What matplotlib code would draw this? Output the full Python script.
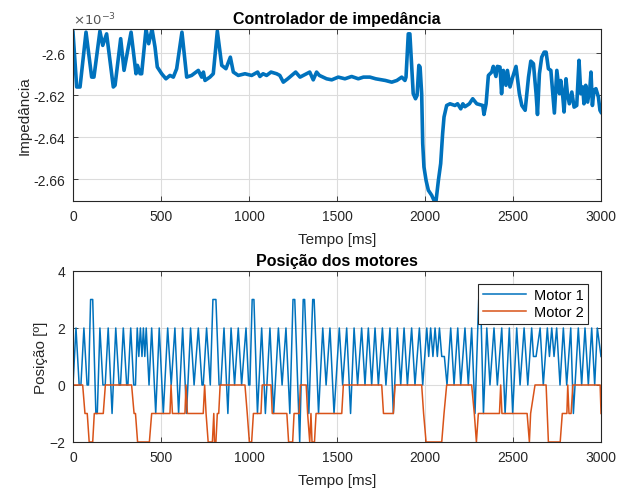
import matplotlib
matplotlib.use("Agg")
import matplotlib.pyplot as plt
from matplotlib.ticker import FuncFormatter

plt.rcParams['font.family'] = ['Liberation Sans', 'DejaVu Sans']

# impedance controller output (values in units of 1e-3)
imp_t = [0, 21, 40, 74, 106, 119, 153, 169, 191, 229, 239, 271, 290, 330, 358, 366, 381, 390,
         415, 430, 449, 466, 479, 504, 528, 551, 570, 589, 619, 646, 674, 712, 731, 741, 750,
         778, 797, 820, 845, 869, 894, 911, 939, 977, 1015, 1049, 1062, 1080, 1100, 1125, 1157,
         1175, 1195, 1220, 1265, 1290, 1327, 1345, 1365, 1384, 1400, 1441, 1470, 1507, 1545,
         1583, 1621, 1650, 1687, 1720, 1754, 1775, 1811, 1840, 1868, 1886, 1892, 1905, 1914,
         1933, 1946, 1955, 1965, 1972, 1981, 1987, 1994, 2006, 2019, 2038, 2051, 2063, 2076,
         2089, 2100, 2108, 2123, 2142, 2170, 2185, 2203, 2215, 2227, 2252, 2271, 2294, 2310,
         2328, 2335, 2347, 2360, 2379, 2388, 2403, 2411, 2426, 2435, 2445, 2460, 2468, 2483,
         2498, 2517, 2536, 2550, 2569, 2588, 2601, 2616, 2631, 2639, 2650, 2663, 2677, 2688,
         2701, 2715, 2726, 2735, 2749, 2764, 2771, 2783, 2790, 2801, 2809, 2820, 2834, 2847,
         2862, 2875, 2885, 2896, 2903, 2913, 2924, 2937, 2943, 2951, 2960, 2971, 2985, 2994, 3000]
imp_v = [-2.5899, -2.6160, -2.6160, -2.5899, -2.6113, -2.6113, -2.5894, -2.5962, -2.5907, -2.6160,
         -2.6152, -2.5930, -2.6081, -2.5899, -2.6097, -2.6057, -2.6097, -2.6097, -2.5884, -2.5954,
         -2.5884, -2.5970, -2.6065, -2.6097, -2.6121, -2.6105, -2.6113, -2.6073, -2.5899, -2.6113,
         -2.6105, -2.6081, -2.6113, -2.6089, -2.6129, -2.6113, -2.6097, -2.5894, -2.6057, -2.6073,
         -2.6018, -2.6089, -2.6105, -2.6097, -2.6105, -2.6089, -2.6110, -2.6097, -2.6105, -2.6089,
         -2.6097, -2.6105, -2.6137, -2.6121, -2.6089, -2.6113, -2.6097, -2.6089, -2.6126, -2.6089,
         -2.6105, -2.6121, -2.6126, -2.6113, -2.6121, -2.6110, -2.6121, -2.6113, -2.6113, -2.6121,
         -2.6126, -2.6129, -2.6137, -2.6129, -2.6113, -2.6129, -2.6113, -2.5907, -2.5907, -2.6192,
         -2.6216, -2.6200, -2.6057, -2.6065, -2.6192, -2.6430, -2.6541, -2.6605, -2.6652, -2.6676,
         -2.6700, -2.6700, -2.6605, -2.6525, -2.6383, -2.6303, -2.6248, -2.6240, -2.6248, -2.6240,
         -2.6264, -2.6240, -2.6254, -2.6240, -2.6216, -2.6240, -2.6244, -2.6248, -2.6291, -2.6240,
         -2.6105, -2.6089, -2.6062, -2.6110, -2.6062, -2.6065, -2.6192, -2.6081, -2.6152, -2.6081,
         -2.6160, -2.6113, -2.6062, -2.6192, -2.6248, -2.6271, -2.6113, -2.6037, -2.6049, -2.6192,
         -2.6291, -2.6097, -2.6018, -2.5994, -2.5994, -2.6073, -2.6081, -2.6192, -2.6284, -2.6081,
         -2.6192, -2.6129, -2.6208, -2.6279, -2.6121, -2.6192, -2.6240, -2.6184, -2.6256, -2.6248,
         -2.6033, -2.6192, -2.6160, -2.6240, -2.6152, -2.6232, -2.6160, -2.6089, -2.6248, -2.6176,
         -2.6168, -2.6208, -2.6271, -2.6280]

# motor positions (turning points)
m1_t = [0, 17, 35, 45, 62, 80, 88, 100, 112, 130, 138, 153, 170, 183, 200, 222, 243, 262, 270,
        286, 305, 312, 328, 345, 355, 365, 374, 383, 392, 400, 408, 416, 432, 447, 470, 490,
        513, 538, 558, 579, 600, 623, 645, 668, 688, 712, 733, 740, 759, 780, 795, 812, 830,
        840, 858, 880, 898, 918, 939, 958, 983, 998, 1005, 1018, 1028, 1048, 1072, 1093, 1119,
        1140, 1167, 1188, 1210, 1232, 1250, 1260, 1288, 1308, 1316, 1340, 1362, 1370, 1395,
        1419, 1438, 1460, 1483, 1513, 1532, 1555, 1577, 1597, 1617, 1640, 1659, 1678, 1697,
        1716, 1735, 1758, 1778, 1801, 1820, 1843, 1862, 1881, 1900, 1924, 1943, 1968, 1987,
        2010, 2021, 2032, 2045, 2057, 2070, 2082, 2095, 2110, 2125, 2146, 2165, 2186, 2203,
        2227, 2246, 2265, 2284, 2305, 2316, 2332, 2351, 2369, 2392, 2411, 2436, 2455, 2479,
        2498, 2521, 2540, 2563, 2584, 2606, 2616, 2631, 2654, 2672, 2695, 2707, 2720, 2733,
        2748, 2767, 2786, 2805, 2828, 2843, 2871, 2890, 2909, 2928, 2947, 2964, 2979, 3000]
m1_v = [0, 2, 0, 0, 2, 0, 0, 3, 3, -1, -1, 2, 0, 0, 2, -1, 2, 0, 0,
        2, 0, 0, 2, 0, 0, 2, 1, 2, 1, 2, 1, 2, 0, 2, -1, 2,
        -1, 2, 0, 2, -1, 2, -1, 2, 0, 2, 0, 0, 2, 0, 3, 3, 0,
        0, 2, -1, 2, 0, 2, 0, 2, 0, 0, 3, 3, -1, 2, -1, 2,
        -1, 2, 0, 2, -1, 3, 3, -2, 3, 3, -1, 3, 3, -1,
        2, 0, 2, -1, 2, 0, 2, -1, 2, 0, 2, 0, 2, 0,
        2, 0, 2, 0, 2, -1, 2, 0, 2, 0, 2, 0, 2, 0,
        2, 1, 2, 1, 2, 1, 2, 1, 1, 0, 2, 0, 2, 0,
        2, 0, 2, -1, 3, 3, -1, 2, 0, 2, 0, 2, -1, 2,
        -1, 2, 0, 2, 0, 2, 1, 1, 2, 0, 2, 1, 2, 1,
        2, 0, 2, 0, 2, -1, 2, 0, 2, 0, 2, 0, 2, 1]

m2_t = [0, 55, 68, 81, 92, 112, 121, 172, 184, 333, 347, 355, 367, 434, 447, 551, 557, 565,
        636, 642, 650, 740, 748, 756, 768, 792, 800, 804, 812, 820, 828, 836, 977, 990, 1002,
        1015, 1025, 1068, 1075, 1125, 1132, 1215, 1225, 1248, 1256, 1285, 1292, 1325, 1333,
        1345, 1352, 1358, 1372, 1381, 1527, 1536, 1754, 1764, 1820, 1830, 1981, 1992, 2006,
        2095, 2108, 2123, 2265, 2280, 2292, 2303, 2423, 2430, 2437, 2580, 2593, 2600, 2625,
        2688, 2701, 2768, 2780, 2806, 2811, 2818, 2830, 2840, 2995, 3000]
m2_v = [0, 0, -1, -1, -2, -2, -1, -1, 0, 0, -1, -1, -2, -2, -1, -1, 0, -1,
        -1, 0, -1, -1, 0, -1, -2, -2, -1, -2, -2, -1, -1, 0, 0, -1, -2,
        -2, -1, -1, 0, 0, -1, -1, -2, -2, -1, -1, 0, 0, -1,
        -2, -1, -2, -2, -1, -1, 0, 0, -1, -1, 0, 0, -1, -2,
        -2, -1, 0, 0, -1, -2, -1, -1, 0, -1, -1, -2, -1, 0,
        0, -2, -2, -1, -1, 0, -1, -1, 0, 0, -1]

blue = '#0072BD'
orange = '#D95319'
axcol = '#262626'
xticks = [0, 500, 1000, 1500, 2000, 2500, 3000]

fig = plt.figure(figsize=(6.26, 4.89), dpi=100)
ax1 = fig.add_axes([0.1166, 0.5869, 0.8435, 0.3517])
ax2 = fig.add_axes([0.1166, 0.0941, 0.8435, 0.3497])


def style(ax):
    ax.grid(True, color='#dcdcdc', linewidth=0.8)
    ax.set_axisbelow(True)
    ax.tick_params(direction='in', length=3.5, width=0.6, colors=axcol,
                   labelsize=10, top=True, right=True, pad=5.5)
    for s in ax.spines.values():
        s.set_color(axcol)
        s.set_linewidth(0.8)
    ax.set_xlim(0, 3000)
    ax.set_xticks(xticks)
    ax.set_xlabel('Tempo [ms]', fontsize=11, color=axcol, labelpad=6.5)


ax1.plot(imp_t, imp_v, color=blue, linewidth=2.6, solid_joinstyle='round')
style(ax1)
ax1.set_ylim(-2.6703, -2.5884)
ax1.set_yticks([-2.66, -2.64, -2.62, -2.6])
ax1.yaxis.set_major_formatter(FuncFormatter(lambda v, p: '%g' % round(v, 3)))
ax1.set_ylabel('Impedância', fontsize=11, color=axcol, labelpad=1)
ax1.set_title('Controlador de impedância', fontsize=11.5, fontweight='bold', pad=4)
ax1.text(0.0, 1.008, r'$\times10^{-3}$', transform=ax1.transAxes, fontsize=9.5,
         color='#555555', ha='left', va='bottom')

ax2.plot(m1_t, m1_v, color=blue, linewidth=1.1, label='Motor 1')
ax2.plot(m2_t, m2_v, color=orange, linewidth=1.1, label='Motor 2')
style(ax2)
ax2.set_ylim(-2, 4)
ax2.set_yticks([-2, 0, 2, 4])
ax2.set_ylabel('Posição [º]', fontsize=11, color=axcol, labelpad=1)
ax2.set_title('Posição dos motores', fontsize=11.5, fontweight='bold', pad=4)
leg = ax2.legend(loc='upper right', fontsize=10.5, fancybox=False, edgecolor=axcol,
                 framealpha=1, borderaxespad=0.9, handlelength=3.0, labelspacing=0.2,
                 borderpad=0.3, handletextpad=0.5)
leg.get_frame().set_linewidth(0.8)

fig.savefig('out.png', dpi=100)
